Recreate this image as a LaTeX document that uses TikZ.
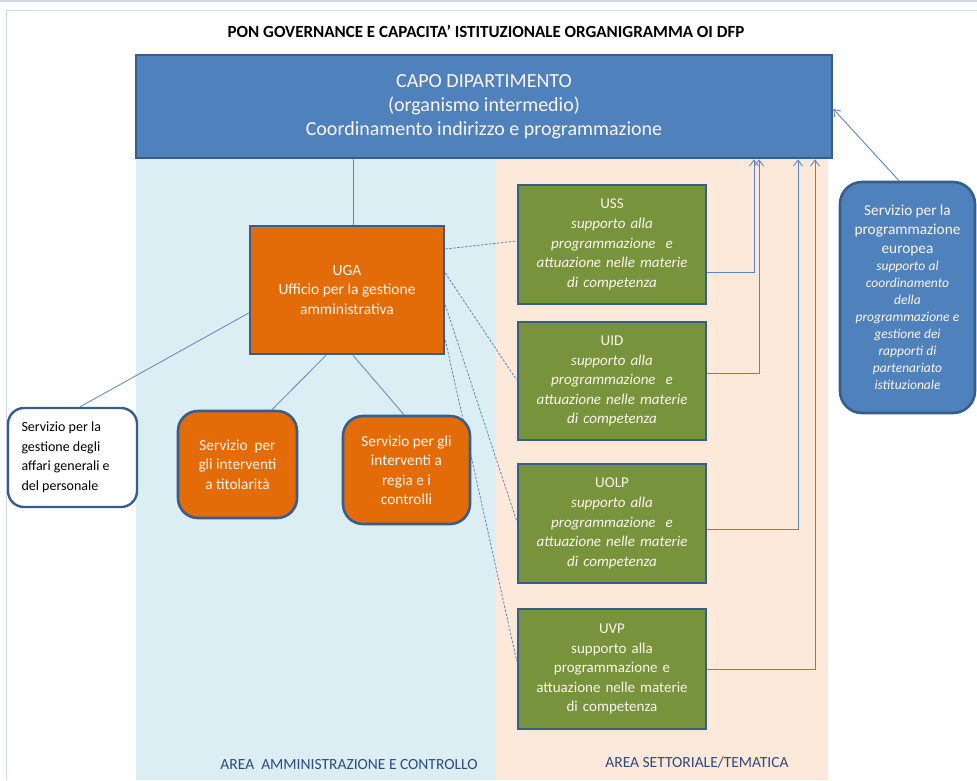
\documentclass[tikz,border=0pt]{standalone}
\usepackage{fontspec}
\setmainfont{Carlito}
\usetikzlibrary{arrows.meta,calc}
\definecolor{capoblue}{HTML}{4F81BD}
\definecolor{bordblue}{HTML}{385D8A}
\definecolor{ugaorange}{HTML}{E36C09}
\definecolor{boxgreen}{HTML}{77933C}
\definecolor{areablue}{HTML}{DAEEF3}
\definecolor{areapeach}{HTML}{FDE9D9}
\definecolor{framegray}{HTML}{D0D8E6}
\definecolor{labelblue}{HTML}{2E4A7D}
\definecolor{linkblue}{HTML}{5B87C0}
\definecolor{cream}{HTML}{FDF6EC}
\tikzset{
  boxbase/.style={draw=bordblue, line width=2.6pt, align=center, inner sep=0pt, text=cream},
  capobox/.style={boxbase, fill=capoblue, minimum width=696pt, minimum height=103pt,
     font=\fontsize{20}{24}\selectfont},
  ugabox/.style={boxbase, fill=ugaorange, minimum width=194pt, minimum height=128pt,
     font=\fontsize{15.5}{19.5}\selectfont},
  greenbox/.style={boxbase, fill=boxgreen, minimum width=188pt, minimum height=119pt,
     text width=184pt, font=\fontsize{15}{19.6}\selectfont},
  servbox/.style={boxbase, fill=ugaorange, rounded corners=20pt,
     font=\fontsize{15.3}{19.5}\selectfont},
  whitebox/.style={draw=bordblue, line width=2.4pt, fill=white, rounded corners=16pt,
     minimum width=129pt, minimum height=99pt, align=left, inner sep=0pt, text=black,
     font=\fontsize{14}{19.5}\selectfont},
  eurbox/.style={boxbase, fill=capoblue, rounded corners=22pt, minimum width=135pt,
     minimum height=231pt, text width=132pt},
  solidlink/.style={draw=linkblue, line width=0.8pt},
  dashlink/.style={draw=linkblue, line width=0.8pt, dash pattern=on 2.5pt off 1.5pt},
  arrowlink/.style={draw=linkblue, line width=0.9pt, -{Straight Barb[length=6pt,width=9pt]}},
  arealabel/.style={text=labelblue, font=\fontsize{15.5}{18}\selectfont, inner sep=0pt}
}
\begin{document}
\begin{tikzpicture}[x=1pt,y=-1pt]
\useasboundingbox (0,0) rectangle (977,780);
% frame
\draw[framegray, line width=1.2pt] (0,1) -- (977,1);
\draw[framegray, line width=1pt] (6,780) -- (6,10) -- (977,10);
% areas
\fill[areablue] (136,158) rectangle (496,780);
\fill[areapeach] (496,158) rectangle (828,780);
% title
\node[font=\fontsize{17}{19}\selectfont\bfseries, inner sep=0pt] (title) at (486,31)
  {PON GOVERNANCE E CAPACITA' ISTITUZIONALE ORGANIGRAMMA OI DFP};
% nodes
\node[capobox] (capo) at (484,106.5)
  {CAPO DIPARTIMENTO\\(organismo intermedio)\\Coordinamento indirizzo e programmazione};
\node[ugabox] (uga) at (347,290) {UGA\\Ufficio per la gestione\\amministrativa};
\coordinate (a1) at (754,0);
\coordinate (a2) at (759,0);
\coordinate (a3) at (798,0);
\coordinate (a4) at (815,0);
\node[greenbox] (uss) at (612,244.5)
  {USS\\\itshape supporto alla\\\itshape programmazione\ \ e\\\itshape attuazione nelle materie\\\itshape di competenza};
\node[greenbox, minimum height=118pt] (uid) at (612,381)
  {UID\\\itshape supporto alla\\\itshape programmazione\ \ e\\\itshape attuazione nelle materie\\\itshape di competenza};
\node[greenbox] (uolp) at (612,523.5)
  {UOLP\\\itshape supporto alla\\\itshape programmazione\ \ e\\\itshape attuazione nelle materie\\\itshape di competenza};
\node[greenbox, minimum height=120pt] (uvp) at (612,669)
  {UVP\\supporto alla\\programmazione e\\attuazione nelle materie\\di competenza};
% dashed links (below service boxes)
\draw[dashlink] ([yshift=41pt]uga.east) -- ([yshift=3.5pt]uss.west);
\draw[dashlink] ([yshift=17pt]uga.east) -- ([yshift=1pt]uid.west);
\draw[dashlink] ([yshift=-15pt]uga.east) -- ([yshift=2.5pt]uolp.west);
\draw[dashlink] ([yshift=-50pt]uga.east) -- ([yshift=8pt]uvp.west);
% service boxes
\node[servbox, minimum width=119pt, minimum height=107pt] (ob1) at (237.5,464.5)
  {Servizio\ \ per\\gli interventi\\a titolarità};
\node[servbox, minimum width=127pt, minimum height=108pt] (ob2) at (406.5,470)
  {Servizio per gli\\interventi a\\regia e i\\controlli};
\node[whitebox] (wbox) at (72.5,457.5)
  {\parbox{102pt}{Servizio per la\\gestione degli\\affari generali e\\del personale}};
\node[eurbox] (eur) at (907.5,297.5)
  {{\fontsize{15.3}{19}\selectfont Servizio per la\\programmazione\\europea\par}
   {\fontsize{13.5}{17}\selectfont\itshape supporto al\\coordinamento\\della\\programmazione e\\gestione dei\\rapporti di\\partenariato\\istituzionale\par}};
% solid links
\draw[solidlink] (capo.south -| 353,0) -- ([xshift=6pt]uga.north);
\draw[solidlink] ([yshift=-23pt]uga.west) -- ([xshift=7.5pt]wbox.north);
\draw[solidlink] ([xshift=-21pt]uga.south) -- ([xshift=34.5pt]ob1.north);
\draw[solidlink] ([xshift=6pt]uga.south) -- ([xshift=-2.5pt]ob2.north);
% arrows to capo
\draw[arrowlink] ([yshift=-27.5pt]uss.east) -| (capo.south -| a1);
\draw[arrowlink] ([yshift=8pt]uid.east) -| (capo.south -| a2);
\draw[arrowlink] ([yshift=-5.5pt]uolp.east) -| (capo.south -| a3);
\draw[arrowlink] (uvp.east) -| (capo.south -| a4);
\draw[arrowlink] ([xshift=-8.5pt]eur.north) -- ([yshift=-2.5pt]capo.east);
% area labels
\node[arealabel] (lab1) at (349,765) {AREA\ \ AMMINISTRAZIONE E CONTROLLO};
\node[arealabel] (lab2) at (697,762) {AREA SETTORIALE/TEMATICA};
\end{tikzpicture}
\end{document}
